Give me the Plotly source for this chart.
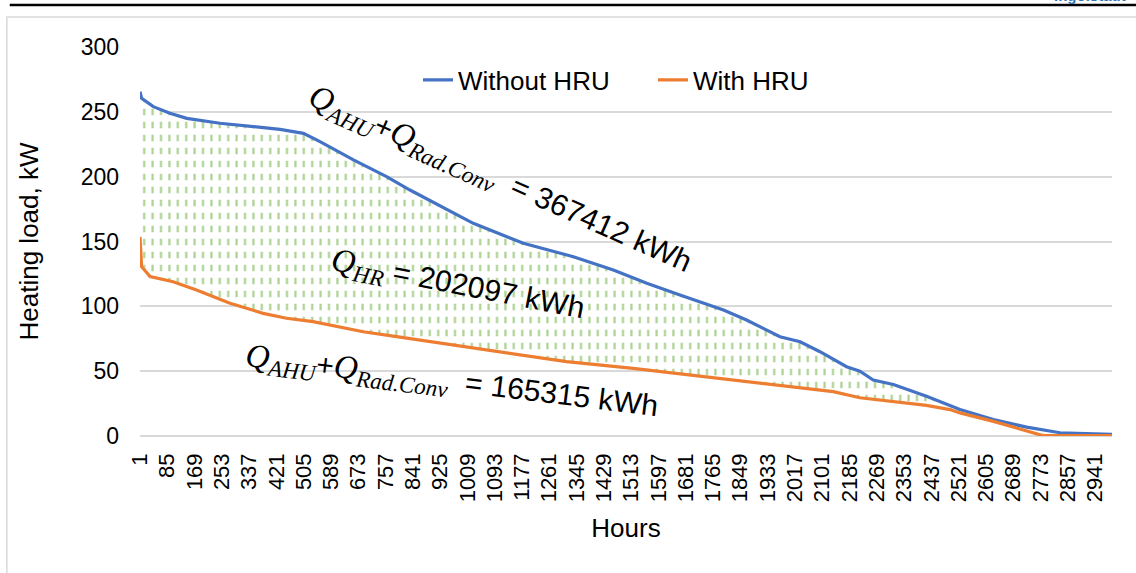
import plotly.graph_objects as go

FONT = "Liberation Sans, Arial, sans-serif"
MATH_FONT = "Liberation Serif, DejaVu Serif, serif"
BLUE = "#4472C4"
ORANGE = "#ED7D31"
GREEN = "#A9D18E"
GRID = "#D9D9D9"

# values (hour index, heating load in kW)
hours_without = [1, 6, 42, 93, 145, 247, 350, 432, 504, 555, 658, 760, 832, 1027, 1181,
                 1335, 1458, 1561, 1663, 1797, 1868, 1971, 2033, 2094, 2176, 2217, 2258,
                 2279, 2320, 2422, 2525, 2628, 2730, 2833, 2993]
load_without = [265.5, 260.4, 254.0, 248.9, 245.0, 241.2, 238.6, 236.5, 233.4, 227.0, 212.9,
                200.0, 189.7, 164.0, 148.6, 138.3, 128.0, 117.8, 108.7, 97.2, 89.5, 76.6,
                72.7, 65.0, 53.4, 50.0, 43.2, 41.9, 39.7, 30.7, 20.4, 12.7, 6.8, 2.5, 1.2]

hours_with = [1, 6, 32, 103, 175, 278, 380, 452, 534, 586, 688, 791, 894, 996, 1109, 1314,
              1519, 1724, 1930, 2135, 2217, 2279, 2320, 2422, 2494, 2525, 2628, 2730, 2780, 2993]
load_with = [153.5, 130.6, 122.9, 119.0, 112.6, 102.3, 94.6, 90.8, 88.2, 85.6, 80.4, 76.6,
             72.7, 68.9, 65.0, 57.3, 52.2, 46.3, 40.6, 34.2, 29.5, 27.8, 26.1, 23.6, 20.4,
             17.8, 11.3, 4.1, 0.3, 0.3]

tick_hours = [1, 85, 169, 253, 337, 421, 505, 589, 673, 757, 841, 925, 1009, 1093, 1177,
              1261, 1345, 1429, 1513, 1597, 1681, 1765, 1849, 1933, 2017, 2101, 2185, 2269,
              2353, 2437, 2521, 2605, 2689, 2773, 2857, 2941]

total_without = "367412 kWh"
total_recovered = "202097 kWh"
total_with = "165315 kWh"

fig = go.Figure()

# hatched area between the two curves: green vertical lines on white...
fig.add_trace(go.Scatter(x=hours_with, y=load_with, mode="lines",
                         line=dict(width=0), showlegend=False, hoverinfo="skip"))
fig.add_trace(go.Scatter(
    x=hours_without, y=load_without, mode="lines", line=dict(width=0),
    fill="tonexty", fillcolor="white",
    fillpattern=dict(shape="|", size=8.4, solidity=0.26, fgcolor=GREEN, fgopacity=1,
                     bgcolor="white"),
    showlegend=False, hoverinfo="skip",
))
# ...cut into dashes by white horizontal bands
fig.add_trace(go.Scatter(x=hours_with, y=load_with, mode="lines",
                         line=dict(width=0), showlegend=False, hoverinfo="skip"))
fig.add_trace(go.Scatter(
    x=hours_without, y=load_without, mode="lines", line=dict(width=0),
    fill="tonexty", fillcolor="rgba(255,255,255,0.01)",
    fillpattern=dict(shape="-", size=13, solidity=0.5, fgcolor="white", fgopacity=1,
                     bgcolor="rgba(255,255,255,0.01)"),
    showlegend=False, hoverinfo="skip",
))

fig.add_trace(go.Scatter(x=hours_without, y=load_without, mode="lines", name="Without HRU",
                         line=dict(color=BLUE, width=3.2)))
fig.add_trace(go.Scatter(x=hours_with, y=load_with, mode="lines", name="With HRU",
                         line=dict(color=ORANGE, width=3.2)))


def q_term(sub):
    return (f'<span style="font-family:{MATH_FONT};font-size:33px"><i>Q</i>'
            f'<sub><i>{sub}</i></sub></span>')


ann_font = dict(family=FONT, size=30, color="black")
fig.add_annotation(x=1109, y=197, xref="x", yref="y", showarrow=False, textangle=24,
                   text=q_term("AHU") + "+" + q_term("Rad.Conv") + "&nbsp;&nbsp;= " + total_without,
                   font=ann_font)
fig.add_annotation(x=977, y=116, xref="x", yref="y", showarrow=False, textangle=11,
                   text=q_term("HR") + " = " + total_recovered, font=ann_font)
fig.add_annotation(x=960, y=41, xref="x", yref="y", showarrow=False, textangle=7,
                   text=q_term("AHU") + "+" + q_term("Rad.Conv") + "&nbsp;&nbsp;= " + total_with,
                   font=ann_font)

# cropped page header
fig.add_annotation(x=0.977, y=1.1054, xref="paper", yref="paper", showarrow=False,
                   xanchor="center", yanchor="bottom", text="<b>Ingolstadt</b>",
                   font=dict(family=FONT, size=15, color="#2E75B6"))
fig.add_shape(type="line", xref="paper", yref="paper", x0=-0.134, x1=1.03, y0=1.108, y1=1.108,
              line=dict(color="black", width=2.5), layer="above")
fig.add_shape(type="rect", xref="paper", yref="paper", x0=-0.137, x1=1.04, y0=-0.5, y1=1.077,
              line=dict(color=GRID, width=1.5), layer="below")

fig.update_layout(
    width=1136, height=573,
    paper_bgcolor="white", plot_bgcolor="white",
    font=dict(family=FONT, color="black", size=23),
    margin=dict(l=140, r=24, t=47, b=137),
    showlegend=True,
    legend=dict(orientation="h", traceorder="normal", x=0.286, xanchor="left",
                y=0.915, yanchor="middle", entrywidth=190, font=dict(size=26),
                bgcolor="rgba(0,0,0,0)"),
)
fig.update_xaxes(
    range=[1, 2993], tickvals=tick_hours, ticktext=[str(h) for h in tick_hours],
    tickangle=-90, tickfont=dict(size=22), showgrid=False, zeroline=False,
    showline=False, ticks="", ticklabelstandoff=12,
    title=dict(text="Hours", font=dict(size=26), standoff=17),
)
fig.update_yaxes(
    range=[0, 300], dtick=50, tickfont=dict(size=23), gridcolor=GRID, gridwidth=1.5,
    zeroline=True, zerolinecolor=GRID, zerolinewidth=1.5, showline=False, ticks="",
    ticklabelstandoff=20,
    title=dict(text="Heating load, kW", font=dict(size=26), standoff=34),
)

# page body margin would shift the figure 8px; the reference sits flush at the corner
fig.write_html("out.html", config={"displayModeBar": False},
               post_script="document.body.style.margin='0px';")
